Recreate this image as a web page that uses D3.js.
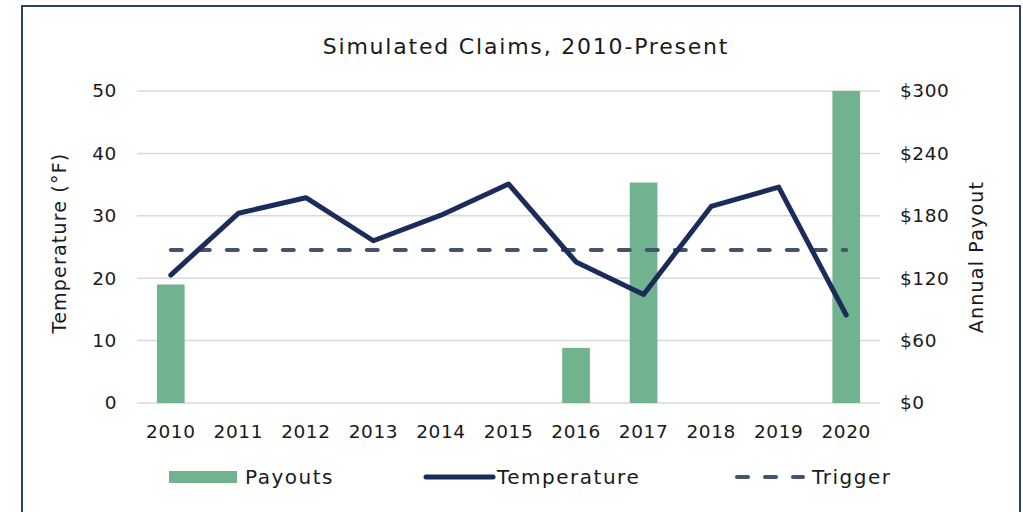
<!DOCTYPE html>
<html>
<head>
<meta charset="utf-8">
<script src="https://cdn.jsdelivr.net/npm/d3@7"></script>
<style>
  body { margin: 0; background: #fff; }
  text { font-family: "DejaVu Sans", sans-serif; fill: #1a1a1a; }
</style>
</head>
<body>
<div id="chart"></div>
<script>
var years = ["2010","2011","2012","2013","2014","2015","2016","2017","2018","2019","2020"];
var payouts = [114, 0, 0, 0, 0, 0, 53, 212, 0, 0, 300];
var temperature = [20.5, 30.4, 32.9, 26.0, 30.1, 35.1, 22.6, 17.4, 31.5, 34.6, 14.1];
var trigger = 24.5;
var tempTicks = [0, 10, 20, 30, 40, 50];
var payTicks = [0, 60, 120, 180, 240, 300];

var width = 1023, height = 512,
  plot = {left: 137, right: 880, top: 91, bottom: 403};

var svg = d3.select("#chart").append("svg")
  .attr("width", width)
  .attr("height", height);

// frame
svg.append("rect")
  .attr("x", 22).attr("y", 6)
  .attr("width", 998).attr("height", 520)
  .attr("fill", "none")
  .attr("stroke", "#2f3f6b")
  .attr("stroke-width", 2);

var x = d3.scaleBand().domain(years).range([plot.left, plot.right]);
var yT = d3.scaleLinear().domain([0, 50]).range([plot.bottom, plot.top]);
var yP = d3.scaleLinear().domain([0, 300]).range([plot.bottom, plot.top]);
var cx = function(d) { return x(d) + x.bandwidth() / 2; };

// gridlines
svg.append("g").selectAll("line")
  .data(tempTicks).enter().append("line")
  .attr("x1", plot.left).attr("x2", plot.right)
  .attr("y1", function(d) { return yT(d); })
  .attr("y2", function(d) { return yT(d); })
  .attr("stroke", "#d9d9d9")
  .attr("stroke-width", 1.5);

// bars
var barW = x.bandwidth() * 0.41;
svg.append("g").selectAll("rect")
  .data(years).enter().append("rect")
  .attr("x", function(d) { return cx(d) - barW / 2; })
  .attr("width", barW)
  .attr("y", function(d, i) { return yP(payouts[i]); })
  .attr("height", function(d, i) { return plot.bottom - yP(payouts[i]); })
  .attr("fill", "#72b38f");

// trigger
svg.append("line")
  .attr("x1", cx(years[0])).attr("x2", cx(years[years.length - 1]))
  .attr("y1", yT(trigger)).attr("y2", yT(trigger))
  .attr("stroke", "#44546a")
  .attr("stroke-width", 4)
  .attr("stroke-linecap", "round")
  .attr("stroke-dasharray", "11 17");

// temperature line
var line = d3.line()
  .x(function(d, i) { return cx(years[i]); })
  .y(function(d) { return yT(d); });

svg.append("path")
  .datum(temperature)
  .attr("d", line)
  .attr("fill", "none")
  .attr("stroke", "#1b2c5a")
  .attr("stroke-width", 5)
  .attr("stroke-linecap", "round")
  .attr("stroke-linejoin", "round");

// axes
var axisL = d3.axisLeft(yT).tickValues(tempTicks).tickSize(0).tickPadding(20);
var gl = svg.append("g").attr("transform", "translate(" + plot.left + ",0)").call(axisL);
var axisR = d3.axisRight(yP).tickValues(payTicks).tickSize(0).tickPadding(20)
  .tickFormat(function(d) { return "$" + d; });
var gr = svg.append("g").attr("transform", "translate(" + plot.right + ",0)").call(axisR);
var axisB = d3.axisBottom(x).tickSize(0).tickPadding(22);
var gb = svg.append("g").attr("transform", "translate(0," + plot.bottom + ")").call(axisB);

[gl, gr, gb].forEach(function(g) {
  g.select(".domain").remove();
  g.selectAll("text")
    .style("font-family", "DejaVu Sans, sans-serif")
    .style("font-size", "18.5px")
    .style("letter-spacing", "0.6px")
    .attr("fill", "#1a1a1a");
});

// title
svg.append("text")
  .attr("x", 526).attr("y", 54)
  .attr("text-anchor", "middle")
  .style("font-size", "22px")
  .style("letter-spacing", "1.8px")
  .text("Simulated Claims, 2010-Present");

// axis titles
svg.append("text")
  .attr("transform", "translate(66,243) rotate(-90)")
  .attr("text-anchor", "middle")
  .style("font-size", "19px")
  .style("letter-spacing", "1.2px")
  .text("Temperature (°F)");

svg.append("text")
  .attr("transform", "translate(983,257) rotate(-90)")
  .attr("text-anchor", "middle")
  .style("font-size", "19px")
  .style("letter-spacing", "1.2px")
  .text("Annual Payout");

// legend
var legend = svg.append("g").style("font-size", "20px").style("letter-spacing", "1.5px");
legend.append("rect")
  .attr("x", 169).attr("y", 471).attr("width", 68).attr("height", 12)
  .attr("fill", "#72b38f");
legend.append("text").attr("x", 245).attr("y", 484).text("Payouts");

legend.append("line")
  .attr("x1", 426).attr("x2", 493).attr("y1", 477).attr("y2", 477)
  .attr("stroke", "#1b2c5a").attr("stroke-width", 5).attr("stroke-linecap", "round");
legend.append("text").attr("x", 497).attr("y", 484).text("Temperature");

legend.append("line")
  .attr("x1", 737).attr("x2", 803).attr("y1", 477).attr("y2", 477)
  .attr("stroke", "#44546a").attr("stroke-width", 4).attr("stroke-linecap", "round")
  .attr("stroke-dasharray", "11 17");
legend.append("text").attr("x", 812).attr("y", 484).text("Trigger");
</script>
</body>
</html>
